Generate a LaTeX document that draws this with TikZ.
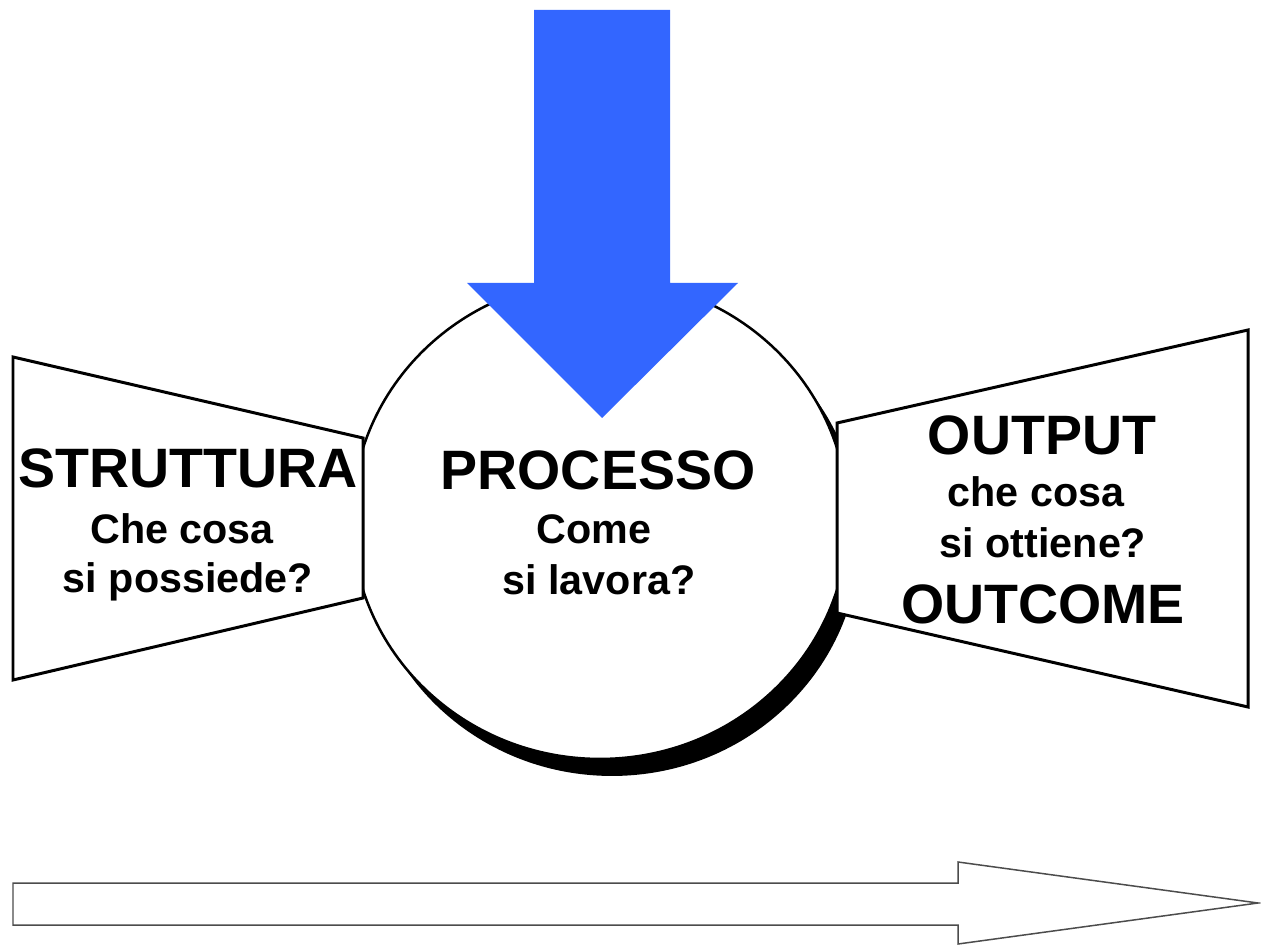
\documentclass[tikz,border=0pt]{standalone}
\usepackage{fontspec}
\setmainfont{Liberation Sans}
\usetikzlibrary{calc}

\definecolor{arrowblue}{RGB}{51,102,255}

\begin{document}
\begin{tikzpicture}[x=0.02cm, y=-0.02cm, line width=0.06cm,
  big/.style={font=\fontsize{31.6}{36}\selectfont\bfseries, anchor=base, inner sep=0},
  small/.style={font=\fontsize{23.5}{28}\selectfont\bfseries, anchor=base, inner sep=0}]

\useasboundingbox (0,0) rectangle (1261,945);

% Centre of the circle
\coordinate (M) at (600,519);

% Corners of the left trapezoid (S) and the right one (O)
\coordinate (S1) at (13,357);
\coordinate (S2) at (363,438);
\coordinate (S3) at (363,598);
\coordinate (S4) at (13,680);

\coordinate (O1) at (837,423);
\coordinate (O2) at (1248,330);
\coordinate (O3) at (1248,707);
\coordinate (O4) at (837,613);

% Shadow of the circle, then the circle itself
\fill[black] ($(M)+(12,17)$) ellipse [x radius=4.96cm, y radius=4.8cm];
\draw[fill=white, line width=0.05cm] (M) ellipse [x radius=4.96cm, y radius=4.8cm];

% The trapezoids lie over the circle
\foreach \a\b\c\d in {S1/S2/S3/S4, O1/O2/O3/O4} {
  \draw[fill=white, line join=miter] (\a) -- (\b) -- (\c) -- (\d) -- cycle;
}

% Blue arrow coming down into the circle
\coordinate (B1) at (534,10);
\coordinate (B2) at (670,10);
\coordinate (Btip) at (602,418);
\fill[arrowblue] (B1) -- (B2) -- (B2 |- 0,283) -- (738,283) -- (Btip)
  -- (467,283) -- (B1 |- 0,283) -- cycle;

% Long hollow arrow at the bottom
\coordinate (T1) at (13,883);
\coordinate (T2) at (958,862);
\coordinate (Ttip) at (1258,903);
\draw[gray!60!black, line width=0.03cm] (T1) -- (T1 -| T2) -- (T2) -- (Ttip)
  -- (958,944) -- (958,925) -- (13,925) -- cycle;

% Texts, placed on their baselines
\foreach \n/\x/\y/\t in {struttura/188/488/STRUTTURA, processo/598/490/PROCESSO,
  output/1042/455/OUTPUT, outcome/1043/623/OUTCOME} {
  \node[big] (\n) at (\x,\y) {\t};
}
\foreach \n/\x/\y/\t in {checosa/182/543/Che cosa, possiede/188/592/si possiede?,
  come/594/543/Come, lavora/599/595/si lavora?,
  checosaout/1036/507/che cosa, ottiene/1043/558/si ottiene?} {
  \node[small] (\n) at (\x,\y) {\t};
}

\end{tikzpicture}
\end{document}
